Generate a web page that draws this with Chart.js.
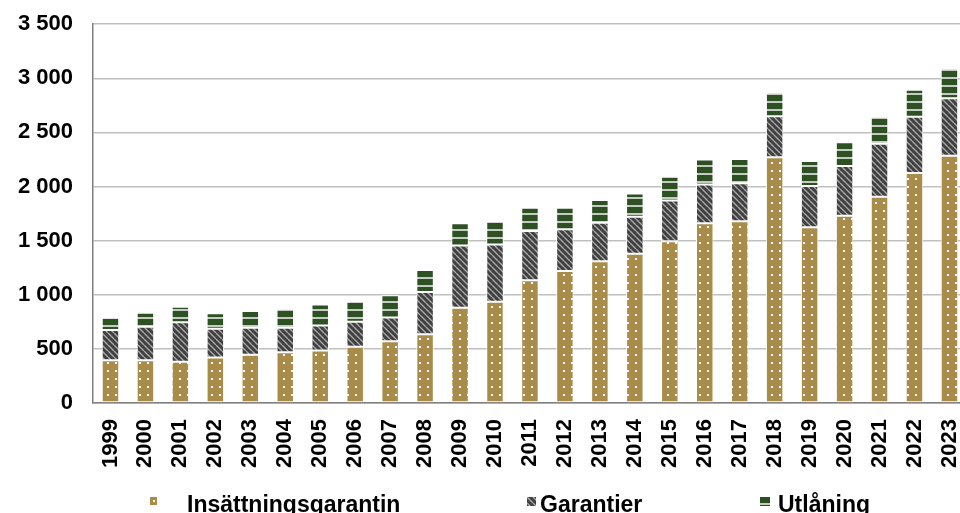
<!DOCTYPE html>
<html>
<head>
<meta charset="utf-8">
<script src="https://cdn.jsdelivr.net/npm/chart.js@4.4.1/dist/chart.umd.min.js"></script>
<style>
  html, body { margin: 0; padding: 0; overflow: hidden; background: #fff; width: 960px; height: 513px; }
  #wrap { position: relative; width: 984px; height: 533px; }
  #chart { position: absolute; left: 0; top: -9px; }
  .leg { position: absolute; top: 493px; font: bold 23px "Liberation Sans", Arial, sans-serif; line-height: 23px; white-space: nowrap; color: #000; }
  .sw { position: absolute; }
</style>
</head>
<body>
<div id="wrap">
  <canvas id="chart" width="984" height="533"></canvas>
</div>
<script>
// data (MSEK)
const years = ['1999','2000','2001','2002','2003','2004','2005','2006','2007','2008','2009','2010','2011',
               '2012','2013','2014','2015','2016','2017','2018','2019','2020','2021','2022','2023'];
const insattning = [395, 395, 380, 420, 445, 470, 485, 520, 570, 635, 880, 935, 1135,
                    1220, 1310, 1380, 1495, 1660, 1680, 2270, 1625, 1730, 1905, 2125, 2285];
const garantier  = [280, 310, 365, 265, 250, 225, 230, 230, 220, 390, 575, 530, 455,
                    385, 355, 340, 375, 360, 350, 380, 380, 460, 490, 520, 530];
const utlaning   = [115, 130, 145, 145, 155, 175, 195, 190, 205, 205, 205, 215, 215,
                    200, 210, 215, 220, 230, 225, 220, 230, 220, 250, 250, 275];
const seriesNames = ['Insättningsgarantin', 'Garantier', 'Utlåning'];
const yTicks = [0, 500, 1000, 1500, 2000, 2500, 3000, 3500];

// pattern tiles for the three series
function makeTile(kind) {
  const c = document.createElement('canvas');
  const x = c.getContext('2d');
  if (kind === 'dots') {
    c.width = 8; c.height = 8;
    x.fillStyle = '#aa8c4a'; x.fillRect(0, 0, 8, 8);
    x.fillStyle = '#ffffff';
    x.fillRect(3, 3, 2, 2);
  } else if (kind === 'diag') {
    c.width = 6; c.height = 6;
    x.fillStyle = '#404040'; x.fillRect(0, 0, 6, 6);
    x.strokeStyle = '#a8a8a8'; x.lineWidth = 1.4;
    [-6, 0, 6].forEach(function (o) {
      x.beginPath(); x.moveTo(o, 0); x.lineTo(o + 6, 6); x.stroke();
    });
  } else {
    c.width = 8; c.height = 8;
    x.fillStyle = '#2e5124'; x.fillRect(0, 0, 8, 8);
    x.fillStyle = '#c4cbc0'; x.fillRect(0, 6, 8, 2);
  }
  return c;
}
const ctx = document.getElementById('chart').getContext('2d');
const tiles = [makeTile('dots'), makeTile('diag'), makeTile('lines')];
const fills = tiles.map(function (t) { return ctx.createPattern(t, 'repeat'); });

const font = { family: '"Liberation Sans", Arial, sans-serif', size: 22, weight: 'bold' };

function spaced(v) { return String(v).replace(/\B(?=(\d{3})+(?!\d))/g, ' '); }

new Chart(ctx, {
  type: 'bar',
  data: {
    labels: years,
    datasets: [insattning, garantier, utlaning].map(function (vals, i) {
      return {
        label: seriesNames[i],
        data: vals,
        backgroundColor: fills[i],
        borderColor: '#ffffff',
        borderWidth: 1,
        borderSkipped: false,
        barPercentage: 0.5,
        categoryPercentage: 1
      };
    })
  },
  options: {
    responsive: false,
    animation: false,
    layout: { padding: { top: 14, right: 8, left: 0, bottom: 0 } },
    plugins: { legend: { display: false }, tooltip: { enabled: false } },
    scales: {
      x: {
        stacked: true,
        grid: { display: false },
        border: { display: true, color: '#7f7f7f', width: 1.5 },
        ticks: { color: '#000', font: font, minRotation: 90, maxRotation: 90, padding: 8 },
        afterFit: function (s) { s.height = 121; }
      },
      y: {
        stacked: true,
        min: 0, max: 3500,
        afterBuildTicks: function (s) { s.ticks = yTicks.map(function (v) { return { value: v }; }); },
        grid: { color: '#c0c0c0', lineWidth: 1.5, drawTicks: false },
        border: { display: true, color: '#7f7f7f', width: 1.5 },
        ticks: { color: '#000', font: font, padding: 20, callback: function (v) { return spaced(v); } },
        afterFit: function (s) { s.width = 93; }
      }
    }
  }
});

// legend row beneath the axis
const legendPos = [
  { sw: [150, 497, 7, 8], text: 187 },
  { sw: [527, 497, 9, 9], text: 540 },
  { sw: [760, 497, 10, 9], text: 778 }
];
const wrap = document.getElementById('wrap');
seriesNames.forEach(function (name, i) {
  const p = legendPos[i];
  const sw = document.createElement('canvas');
  sw.className = 'sw';
  sw.width = p.sw[2]; sw.height = p.sw[3];
  sw.style.left = p.sw[0] + 'px'; sw.style.top = p.sw[1] + 'px';
  const sc = sw.getContext('2d');
  sc.fillStyle = sc.createPattern(tiles[i], 'repeat');
  sc.fillRect(0, 0, p.sw[2], p.sw[3]);
  wrap.appendChild(sw);
  const t = document.createElement('div');
  t.className = 'leg';
  t.style.left = p.text + 'px';
  t.textContent = name;
  wrap.appendChild(t);
});
</script>
</body>
</html>
